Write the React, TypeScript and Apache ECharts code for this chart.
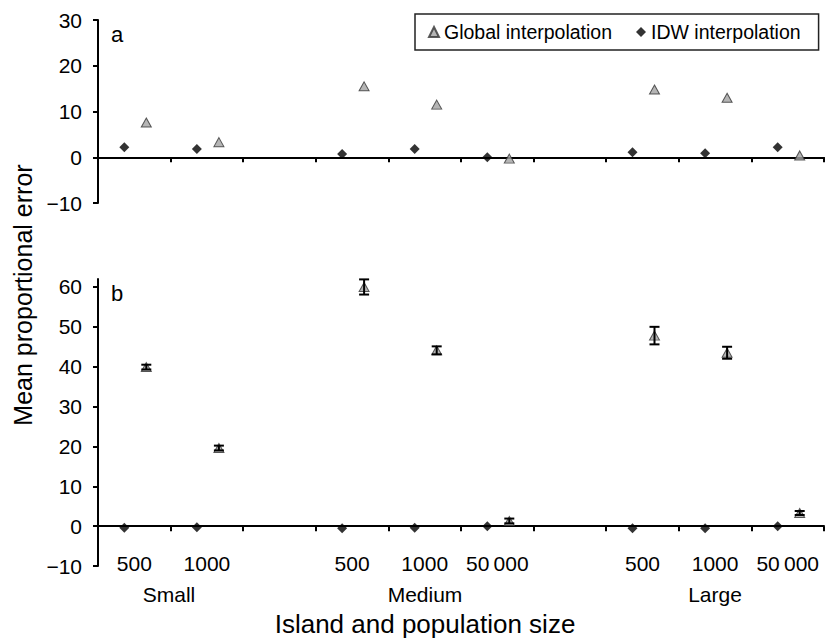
import React, { useEffect, useRef } from "react";
import * as echarts from "echarts";

// ---- data ----
const categories = ["S500", "S1000", "Sgap", "M500", "M1000", "M50000", "Mgap", "L500", "L1000", "L50000"];
const sizeLabels = ["500", "1000", "", "500", "1000", "50\u2009000", "", "500", "1000", "50\u2009000"];
const groupLabels = ["Small", "Medium", "Large"];

const globalA = [7.6, 3.3, null, 15.5, 11.5, -0.3, null, 14.8, 13.0, 0.4];
const idwA = [2.2, 1.8, null, 0.7, 1.8, 0.0, null, 1.1, 0.9, 2.2];

const globalB = [39.9, 19.6, null, 60.0, 44.1, 1.3, null, 47.8, 43.5, 3.3];
const globalBErr = [0.6, 0.6, null, 1.9, 1.0, 0.6, null, 2.2, 1.5, 0.5];
const idwB = [-0.4, -0.3, null, -0.5, -0.4, 0.0, null, -0.5, -0.5, 0.0];

const yTicksA = { min: -10, max: 30, interval: 10 };
const yTicksB = { min: -10, max: 62, interval: 10 };

const FONT = "Liberation Sans, Arial, Helvetica, sans-serif";

const toData = (arr: (number | null)[]) => arr.map((v) => (v === null ? "-" : v));

const fmtY = (v: number) => (v < 0 ? "\u2212" + Math.abs(v) : String(v));

export default function App() {
  const ref = useRef<HTMLDivElement>(null);
  useEffect(() => {
    if (!ref.current) return;
    const chart = echarts.init(ref.current, null, { renderer: "svg" });
    const axisLine = { show: true, onZero: true, lineStyle: { color: "#000", width: 2 } };
    const axisTick = { show: true, inside: false, length: 5, lineStyle: { color: "#000", width: 2 } };
    const triStyle = { color: "#a3a3a3", borderColor: "#333", borderWidth: 1 };
    const diaStyle = { color: "#000" };
    const triOff = 12;
    const diaOff = -10;

    const errData = globalB
      .map((v, i) => (v === null ? null : [i, v, globalBErr[i] as number]))
      .filter((d) => d !== null);

    chart.setOption({
      animation: false,
      backgroundColor: "#fff",
      textStyle: { fontFamily: FONT, color: "#000" },
      grid: [
        { left: 98, right: 4, top: 20, height: 183 },
        { left: 98, right: 4, top: 279, height: 287 },
      ],
      legend: {
        left: 415,
        top: 14,
        padding: [8, 18, 8, 13],
        itemGap: 24,
        itemWidth: 10,
        itemHeight: 10,
        borderColor: "#222",
        borderWidth: 1.5,
        textStyle: { fontSize: 19.5, fontFamily: FONT, color: "#000" },
        data: ["Global interpolation", "IDW interpolation"],
      },
      xAxis: [0, 1].map((gi) => ({
        type: "category",
        gridIndex: gi,
        data: categories,
        boundaryGap: true,
        axisLine,
        axisTick: { ...axisTick, interval: 0 },
        axisLabel:
          gi === 0
            ? { show: false }
            : {
                show: true,
                interval: 0,
                margin: -13,
                fontSize: 21,
                fontFamily: FONT,
                color: "#000",
                formatter: (_v: string, idx: number) => sizeLabels[idx],
              },
        splitLine: { show: false },
      })),
      yAxis: [yTicksA, yTicksB].map((t, gi) => ({
        type: "value",
        gridIndex: gi,
        min: t.min,
        max: t.max,
        interval: t.interval,
        axisLine: { show: true, lineStyle: { color: "#000", width: 2 } },
        axisTick: { show: true, length: 5, lineStyle: { color: "#000", width: 2 } },
        axisLabel: {
          show: true,
          margin: 16,
          fontSize: 21,
          fontFamily: FONT,
          color: "#000",
          showMaxLabel: gi === 0,
          formatter: (v: number) => (v % 10 === 0 ? fmtY(v) : ""),
        },
        splitLine: { show: false },
      })),
      series: [
        {
          name: "Global interpolation",
          type: "scatter",
          xAxisIndex: 0,
          yAxisIndex: 0,
          symbol: "triangle",
          symbolSize: [10, 9],
          symbolOffset: [triOff, 0],
          itemStyle: triStyle,
          data: toData(globalA),
          z: 3,
        },
        {
          name: "IDW interpolation",
          type: "scatter",
          xAxisIndex: 0,
          yAxisIndex: 0,
          symbol: "diamond",
          symbolSize: [10, 10],
          symbolOffset: [diaOff, 0],
          itemStyle: diaStyle,
          data: toData(idwA),
          z: 3,
        },
        {
          name: "Global interpolation",
          type: "scatter",
          xAxisIndex: 1,
          yAxisIndex: 1,
          symbol: "triangle",
          symbolSize: [10, 9],
          symbolOffset: [triOff, 0],
          itemStyle: triStyle,
          data: toData(globalB),
          z: 3,
        },
        {
          name: "errors",
          type: "custom",
          xAxisIndex: 1,
          yAxisIndex: 1,
          encode: { x: 0, y: 1 },
          data: errData,
          z: 4,
          renderItem: (_p: any, api: any) => {
            const x = api.value(0);
            const y = api.value(1);
            const e = api.value(2);
            const top = api.coord([x, y + e]);
            const bot = api.coord([x, y - e]);
            const cx = top[0] + triOff;
            const hw = 5;
            const st = { stroke: "#000", lineWidth: 2 };
            return {
              type: "group",
              children: [
                { type: "line", shape: { x1: cx, y1: top[1], x2: cx, y2: bot[1] }, style: st },
                { type: "line", shape: { x1: cx - hw, y1: top[1], x2: cx + hw, y2: top[1] }, style: st },
                { type: "line", shape: { x1: cx - hw, y1: bot[1], x2: cx + hw, y2: bot[1] }, style: st },
              ],
            };
          },
        },
        {
          name: "IDW interpolation",
          type: "scatter",
          xAxisIndex: 1,
          yAxisIndex: 1,
          symbol: "diamond",
          symbolSize: [10, 10],
          symbolOffset: [diaOff, 0],
          itemStyle: diaStyle,
          data: toData(idwB),
          z: 3,
        },
      ],
      graphic: [
        { type: "text", left: 111, top: 23, style: { text: "a", fontSize: 22, fontFamily: FONT, fill: "#000" } },
        { type: "text", left: 111, top: 282, style: { text: "b", fontSize: 22, fontFamily: FONT, fill: "#000" } },
        {
          type: "text",
          x: 23,
          y: 295,
          rotation: Math.PI / 2,
          style: {
            text: "Mean proportional error",
            fontSize: 25,
            fontFamily: FONT,
            fill: "#000",
            align: "center",
            verticalAlign: "middle",
          },
        },
        {
          type: "text",
          x: 425,
          y: 624,
          style: {
            text: "Island and population size",
            fontSize: 26,
            fontFamily: FONT,
            fill: "#000",
            align: "center",
            verticalAlign: "middle",
          },
        },
        ...groupLabels.map((g, i) => ({
          type: "text",
          x: [169, 425, 715][i],
          y: 594,
          style: { text: g, fontSize: 21, fontFamily: FONT, fill: "#000", align: "center", verticalAlign: "middle" },
        })),
      ],
    });
    return () => chart.dispose();
  }, []);
  return <div ref={ref} style={{ position: "absolute", left: 0, top: 0, width: 828, height: 641 }} />;
}
